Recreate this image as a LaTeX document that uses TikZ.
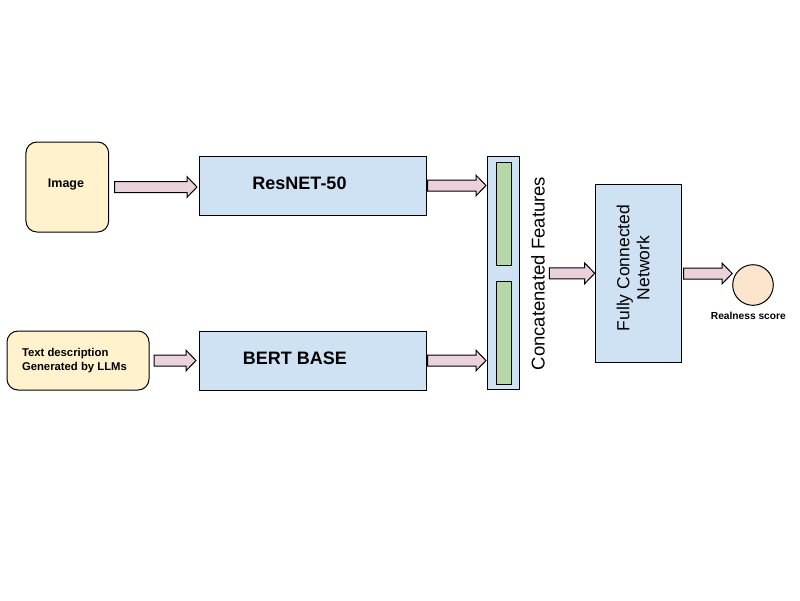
\documentclass[tikz,border=0pt]{standalone}
\usepackage{fontspec}
\setmainfont{Liberation Sans}
\usetikzlibrary{calc}
\definecolor{cyellow}{HTML}{FFF2CC}
\definecolor{cblue}{HTML}{CFE2F3}
\definecolor{cpink}{HTML}{EAD1DC}
\definecolor{cgreen}{HTML}{B6D7A8}
\definecolor{corange}{HTML}{FCE5CD}
\newcommand\barrow[4]{%
  \draw[arr] let \p1=(#1), \p2=(#2) in
    (\x1+#3pt,\y1+5.5pt) -- (\x2-#4pt-10pt,\y1+5.5pt) -- (\x2-#4pt-10pt,\y1+10.3pt)
    -- (\x2-#4pt,\y1) -- (\x2-#4pt-10pt,\y1-10.3pt) -- (\x2-#4pt-10pt,\y1-5.5pt)
    -- (\x1+#3pt,\y1-5.5pt) -- cycle;}
\begin{document}
\begin{tikzpicture}[x=1pt,y=-1pt,
  every node/.style={inner sep=0pt,outer sep=0pt},
  inbox/.style={draw=black,line width=1pt,fill=cyellow,rounded corners=11pt},
  bluebox/.style={draw=black,line width=1pt,fill=cblue},
  greenbar/.style={draw=black,line width=1pt,fill=cgreen},
  arr/.style={draw=black,line width=1pt,fill=cpink,line join=miter},
  boldlbl/.style={font=\bfseries\fontsize{18}{20}\selectfont},
  ]
\useasboundingbox (0,0) rectangle (800,600);
\fill[white] (0,0) rectangle (800,600);
% input boxes
\node[inbox,minimum width=82.7pt,minimum height=90pt] (img) at (67.3,187) {};
\node[font=\bfseries\fontsize{12.5}{14}\selectfont] (imgt) at (66,185) {Image};
\node[inbox,minimum width=142pt,minimum height=59pt] (txt) at (78,360.5) {};
\node[font=\bfseries\fontsize{11.3}{14.6}\selectfont,align=left,anchor=west] (txtt) at (22,360.5) {Text description\\Generated by LLMs};
% encoders
\node[bluebox,minimum width=227pt,minimum height=59pt] (resnet) at (312.5,185.5) {};
\node[boldlbl] (resnett) at (299.5,183.3) {ResNET-50};
\node[bluebox,minimum width=227pt,minimum height=59pt] (bert) at (312.5,360.5) {};
\node[boldlbl] (bertt) at (294.8,358.3) {BERT BASE};
% concatenated
\node[bluebox,minimum width=31.8pt,minimum height=233.3pt] (concat) at (503.4,273.3) {};
\node[greenbar,minimum width=14.8pt,minimum height=103.5pt] (bar1) at (504.1,213.8) {};
\node[greenbar,minimum width=14.8pt,minimum height=103pt] (bar2) at (504.1,332.5) {};
\node[rotate=90,font=\fontsize{18.5}{20}\selectfont] (catt) at (538,273.5) {Concatenated Features};
% fully connected
\node[bluebox,minimum width=86pt,minimum height=178.4pt] (fc) at (638.7,273.5) {};
\node[rotate=90,align=center,font=\fontsize{17.5}{20}\selectfont] (fct) at (633,268) {Fully Connected\\Network};
% output
\node[circle,draw=black,line width=1pt,fill=corange,minimum size=40.6pt] (out) at (753,285) {};
\node[font=\bfseries\fontsize{10.2}{12}\selectfont] (outt) at (748.3,316) {Realness score};
% arrows
\barrow{img.east}{resnet.west}{6}{2}
\barrow{txt.east}{bert.west}{5}{3}
\barrow{resnet.east}{concat.west}{1.5}{1.5}
\barrow{bert.east}{concat.west}{1.5}{1.5}
\barrow{concat.east}{fc.west}{30}{1}
\barrow{fc.east}{out.west}{2}{0.5}
\end{tikzpicture}
\end{document}
